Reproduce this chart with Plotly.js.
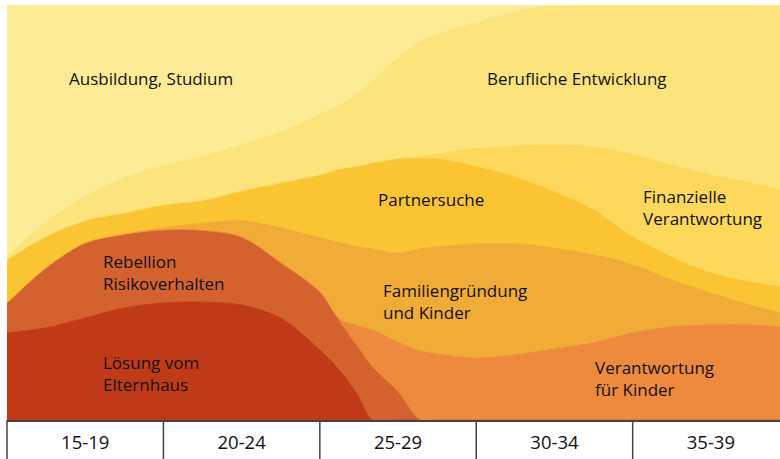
<!DOCTYPE html>
<html>
<head>
<meta charset="utf-8">
<script src="https://cdn.plot.ly/plotly-3.0.1.min.js"></script>
<style>
html,body{margin:0;padding:0;background:#fff;}
#chart{width:780px;height:459px;}
</style>
</head>
<body>
<div id="chart"></div>
<script>
// Age axis (years); each age group spans 5 years
const ages = [15, 16.25, 17.5, 18.75, 20, 21.25, 22.5, 23.75, 25, 25.65, 26.25, 26.67, 27.5, 28.2, 28.75, 30, 31.25, 32.5, 33.75, 35, 36.25, 37.5, 38.75, 39.71];

// Layer thicknesses (share of life topics, stacked bottom -> top)
const loesung      = [21.0, 22.2, 24.6, 27.0, 28.2, 28.4, 27.7, 24.6, 16.9, 11.8, 5.5, 0, 0, 0, 0, 0, 0, 0, 0, 0, 0, 0, 0, 0];
const rebellion    = [7.2, 14.5, 18.1, 17.8, 17.6, 17.3, 16.4, 13.3, 14.0, 11.6, 11.6, 12.8, 6.7, 0, 0, 0, 0, 0, 0, 0, 0, 0, 0, 0];
const verantKinder = [0, 0, 0, 0, 0, 0, 0, 0, 0, 0.8, 5.5, 8.9, 12.0, 16.6, 15.9, 14.9, 15.7, 17.1, 18.6, 21.0, 22.4, 22.9, 22.9, 22.4];
const familie      = [0, 0, 0, 0, 0.5, 1.7, 3.9, 8.4, 13.0, 18.5, 19.1, 19.5, 21.4, 24.6, 25.8, 27.5, 26.7, 24.3, 21.2, 16.4, 11.3, 7.7, 4.8, 3.4];
const partner      = [10.4, 7.5, 5.3, 5.1, 5.5, 5.5, 7.2, 10.8, 15.2, 17.8, 19.5, 20.7, 22.9, 21.7, 21.2, 18.6, 16.1, 13.5, 10.8, 6.7, 5.5, 4.8, 5.5, 6.3];
const finanz       = [0, 0, 0, 0, 0, 0, 0, 0, 0, 0, 0, 0, 0, 0.5, 1.2, 4.3, 7.5, 11.3, 15.2, 19.8, 22.2, 23.6, 23.9, 23.4];
const beruf        = [0.5, 3.6, 5.8, 8.4, 9.4, 10.6, 11.1, 12.3, 14.5, 15.4, 17.8, 19.5, 24.3, 27.7, 28.7, 30.4, 32.3, 33.7, 34.2, 36.1, 38.6, 41.0, 42.9, 44.6];
const ausbildung   = [61.0, 52.3, 46.3, 41.7, 38.8, 36.4, 33.7, 30.6, 26.5, 24.1, 21.0, 18.6, 12.5, 8.9, 7.2, 4.3, 1.7, 0, 0, 0, 0, 0, 0, 0];

// Age group labels (table row)
const groupCenters = [17.5, 22.5, 27.5, 32.5, 37.5];
const groupLabels  = ['15-19', '20-24', '25-29', '30-34', '35-39'];
const groupBorders = [20, 25, 30, 35];

const layers = [
  {name: 'Lösung vom Elternhaus', y: loesung, color: '#C13A17'},
  {name: 'Rebellion Risikoverhalten', y: rebellion, color: '#D4622E'},
  {name: 'Verantwortung für Kinder', y: verantKinder, color: '#EE8A3D'},
  {name: 'Familiengründung und Kinder', y: familie, color: '#F1AB37'},
  {name: 'Partnersuche', y: partner, color: '#FBC433'},
  {name: 'Finanzielle Verantwortung', y: finanz, color: '#FDD85A'},
  {name: 'Berufliche Entwicklung', y: beruf, color: '#FCE37C'},
  {name: 'Ausbildung, Studium', y: ausbildung, color: '#FDEB96'}
];

const traces = layers.map(l => ({
  type: 'scatter',
  x: ages,
  y: l.y,
  name: l.name,
  stackgroup: 'one',
  mode: 'lines',
  line: {width: 1, color: l.color, shape: 'spline', smoothing: 0.9},
  fillcolor: l.color,
  hoverinfo: 'skip'
}));

// label positions in pixels (left x, center y)
const W = 780, H = 459, L = 7, T = 5, B = 39;
const pw = W - L, ph = H - T - B;
function px(x){ return (x - L) / pw; }
function py(y){ return (H - B - y) / ph; }

const labelDefs = [
  ['Ausbildung, Studium', 67, 78],
  ['Berufliche Entwicklung', 485, 78],
  ['Partnersuche', 376, 200],
  ['Finanzielle<br>Verantwortung', 641, 207],
  ['Rebellion<br>Risikoverhalten', 101, 272],
  ['Familiengründung<br>und Kinder', 381, 301],
  ['Lösung vom<br>Elternhaus', 101, 373],
  ['Verantwortung<br>für Kinder', 593, 378]
];

const annotations = labelDefs.map(d => ({
  text: d[0], xref: 'paper', yref: 'paper', x: px(d[1]), y: py(d[2]),
  xanchor: 'left', yanchor: 'middle', align: 'left', showarrow: false,
  font: {family: 'Open Sans, sans-serif', size: 17, color: '#111111', weight: 500}
}));

const shapes = groupBorders.map(a => ({
  type: 'line', xref: 'x', yref: 'paper', x0: a, x1: a, y0: 0, y1: -B / ph,
  line: {color: '#444', width: 1.5}
}));
shapes.push({type: 'line', xref: 'paper', yref: 'paper', x0: 0, x1: 0, y0: 0, y1: -B / ph,
  line: {color: '#444', width: 1.5}});

const layout = {
  width: W, height: H,
  margin: {l: L, r: 0, t: T, b: B, pad: 0},
  paper_bgcolor: '#ffffff',
  plot_bgcolor: '#FDEB96',
  showlegend: false,
  xaxis: {
    range: [15, 39.71], showgrid: false, zeroline: false,
    showline: true, linecolor: '#444', linewidth: 1.5,
    tickmode: 'array', tickvals: groupCenters, ticktext: groupLabels,
    ticks: '', ticklabelstandoff: 5,
    tickfont: {family: 'Open Sans, sans-serif', size: 18.5, color: '#111111', weight: 500},
    fixedrange: true
  },
  yaxis: {range: [0, 100], visible: false, fixedrange: true},
  annotations: annotations,
  shapes: shapes
};

Plotly.newPlot('chart', traces, layout, {displayModeBar: false, staticPlot: true});
</script>
</body>
</html>
